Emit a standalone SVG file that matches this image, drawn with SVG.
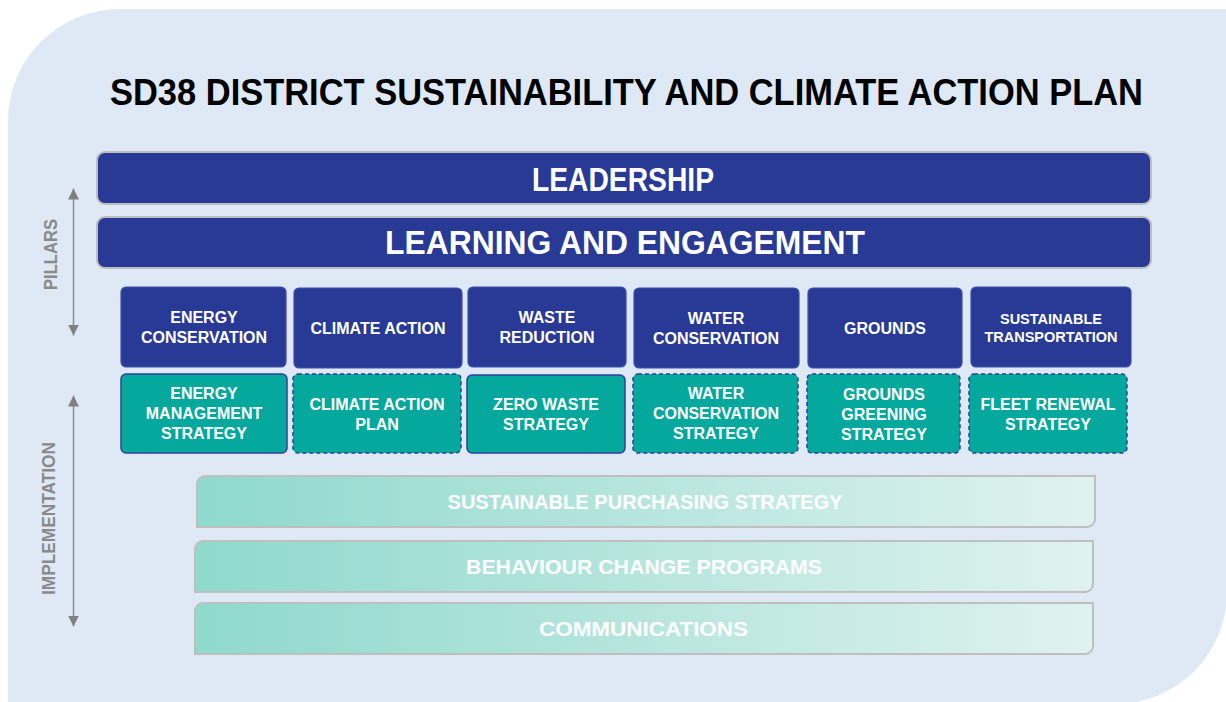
<svg xmlns="http://www.w3.org/2000/svg" width="1226" height="702" viewBox="0 0 1226 702">
<defs>
<style>
.bar{fill:#283996;stroke:#BDBDBD;stroke-width:2}
.pil{fill:#283996;stroke:#3D4FAE;stroke-width:1.2}
.imp{fill:#04A89C;stroke:#2F3F9F;stroke-width:1.5}
.dash{stroke-dasharray:4 3}
.grad{fill:url(#tg);stroke:#BFBFBF;stroke-width:2}
.t{font-family:"Liberation Sans",Arial,sans-serif;font-weight:bold;fill:#FFFFFF;text-anchor:middle}
.bx{font-size:16px}
.big{font-size:33px}
.low{font-size:21px}
.ax{font-family:"Liberation Sans",Arial,sans-serif;font-weight:bold;fill:#8A8A8A;font-size:19px;text-anchor:middle}
.axl{stroke:#8C8C8C;stroke-width:1.5;fill:none}
</style>
<linearGradient id="tg" x1="0" y1="0" x2="1" y2="0">
<stop offset="0" stop-color="#8FD9CD"/>
<stop offset="1" stop-color="#DFF2EF"/>
</linearGradient>
<marker id="ah" viewBox="0 0 10 10" refX="10" refY="5" markerWidth="11" markerHeight="11" markerUnits="userSpaceOnUse" orient="auto-start-reverse">
<path d="M0,0 L10,5 L0,10 Z" fill="#808080"/>
</marker>
</defs>

<path id="background" d="M8,704 V121 A112,112 0 0 1 120,9 H1227 V592 A112,112 0 0 1 1115,704 Z" fill="#DEE9F5"/>

<text x="626.5" y="105" font-family="'Liberation Sans',Arial,sans-serif" font-weight="bold" font-size="37" fill="#000000" text-anchor="middle" textLength="1033" lengthAdjust="spacingAndGlyphs">SD38 DISTRICT SUSTAINABILITY AND CLIMATE ACTION PLAN</text>

<g id="axes">
<line class="axl" x1="73.5" y1="188.5" x2="73.5" y2="335.5" marker-start="url(#ah)" marker-end="url(#ah)"/>
<text class="ax" transform="translate(56.5,254.5) rotate(-90)" textLength="71" lengthAdjust="spacingAndGlyphs">PILLARS</text>
<line class="axl" x1="73.5" y1="395.5" x2="73.5" y2="626.5" marker-start="url(#ah)" marker-end="url(#ah)"/>
<text class="ax" transform="translate(55,518.5) rotate(-90)" textLength="153" lengthAdjust="spacingAndGlyphs">IMPLEMENTATION</text>
</g>

<g id="leadership">
<rect class="bar" x="97" y="152" width="1054" height="52" rx="8"/>
<text class="t big" x="623" y="191" textLength="182" lengthAdjust="spacingAndGlyphs">LEADERSHIP</text>
</g>
<g id="learning">
<rect class="bar" x="97" y="217" width="1054" height="51" rx="8"/>
<text class="t big" x="625" y="253.5" textLength="480" lengthAdjust="spacingAndGlyphs">LEARNING AND ENGAGEMENT</text>
</g>

<g id="p-energy">
<rect class="pil" x="121" y="287" width="165" height="80" rx="5"/>
<text class="t bx" x="204" y="323">ENERGY</text>
<text class="t bx" x="204" y="343">CONSERVATION</text>
</g>
<g id="p-climate">
<rect class="pil" x="294" y="288" width="168" height="80" rx="5"/>
<text class="t bx" x="378" y="334">CLIMATE ACTION</text>
</g>
<g id="p-waste">
<rect class="pil" x="468" y="287" width="158" height="80" rx="5"/>
<text class="t bx" x="547" y="323">WASTE</text>
<text class="t bx" x="547" y="343">REDUCTION</text>
</g>
<g id="p-water">
<rect class="pil" x="634" y="288" width="165" height="80" rx="5"/>
<text class="t bx" x="716" y="324">WATER</text>
<text class="t bx" x="716" y="344">CONSERVATION</text>
</g>
<g id="p-grounds">
<rect class="pil" x="808" y="288" width="154" height="80" rx="5"/>
<text class="t bx" x="885" y="334">GROUNDS</text>
</g>
<g id="p-transport">
<rect class="pil" x="971" y="287" width="160" height="80" rx="5"/>
<text class="t" font-size="14.5" x="1051" y="324">SUSTAINABLE</text>
<text class="t" font-size="14.5" x="1051" y="342">TRANSPORTATION</text>
</g>

<g id="i-energy">
<rect class="imp" x="121" y="374" width="166" height="79" rx="5"/>
<text class="t bx" x="204" y="399">ENERGY</text>
<text class="t bx" x="204" y="419">MANAGEMENT</text>
<text class="t bx" x="204" y="439">STRATEGY</text>
</g>
<g id="i-climate">
<rect class="imp dash" x="293" y="374" width="168" height="79" rx="5"/>
<text class="t bx" x="377" y="410">CLIMATE ACTION</text>
<text class="t bx" x="377" y="430">PLAN</text>
</g>
<g id="i-waste">
<rect class="imp" x="467" y="375" width="158" height="78" rx="5"/>
<text class="t bx" x="546" y="410">ZERO WASTE</text>
<text class="t bx" x="546" y="430">STRATEGY</text>
</g>
<g id="i-water">
<rect class="imp dash" x="633" y="374" width="165" height="79" rx="5"/>
<text class="t bx" x="716" y="399">WATER</text>
<text class="t bx" x="716" y="419">CONSERVATION</text>
<text class="t bx" x="716" y="439">STRATEGY</text>
</g>
<g id="i-grounds">
<rect class="imp dash" x="807" y="374" width="153" height="79" rx="5"/>
<text class="t bx" x="884" y="400">GROUNDS</text>
<text class="t bx" x="884" y="420">GREENING</text>
<text class="t bx" x="884" y="440">STRATEGY</text>
</g>
<g id="i-fleet">
<rect class="imp dash" x="969" y="374" width="158" height="79" rx="5"/>
<text class="t bx" x="1048" y="410">FLEET RENEWAL</text>
<text class="t bx" x="1048" y="430">STRATEGY</text>
</g>

<g id="purchasing">
<path class="grad" d="M197,484 A8,8 0 0 1 205,476 H1095 V519 A8,8 0 0 1 1087,527 H197 Z"/>
<text class="t low" x="645" y="509" textLength="395" lengthAdjust="spacingAndGlyphs">SUSTAINABLE PURCHASING STRATEGY</text>
</g>
<g id="behaviour">
<path class="grad" d="M195,549 A8,8 0 0 1 203,541 H1093 V584 A8,8 0 0 1 1085,592 H195 Z"/>
<text class="t low" x="644" y="574" textLength="356" lengthAdjust="spacingAndGlyphs">BEHAVIOUR CHANGE PROGRAMS</text>
</g>
<g id="communications">
<path class="grad" d="M195,611 A8,8 0 0 1 203,603 H1093 V646 A8,8 0 0 1 1085,654 H195 Z"/>
<text class="t low" x="643.5" y="636" textLength="209" lengthAdjust="spacingAndGlyphs">COMMUNICATIONS</text>
</g>

<g id="connectors"></g>
</svg>
